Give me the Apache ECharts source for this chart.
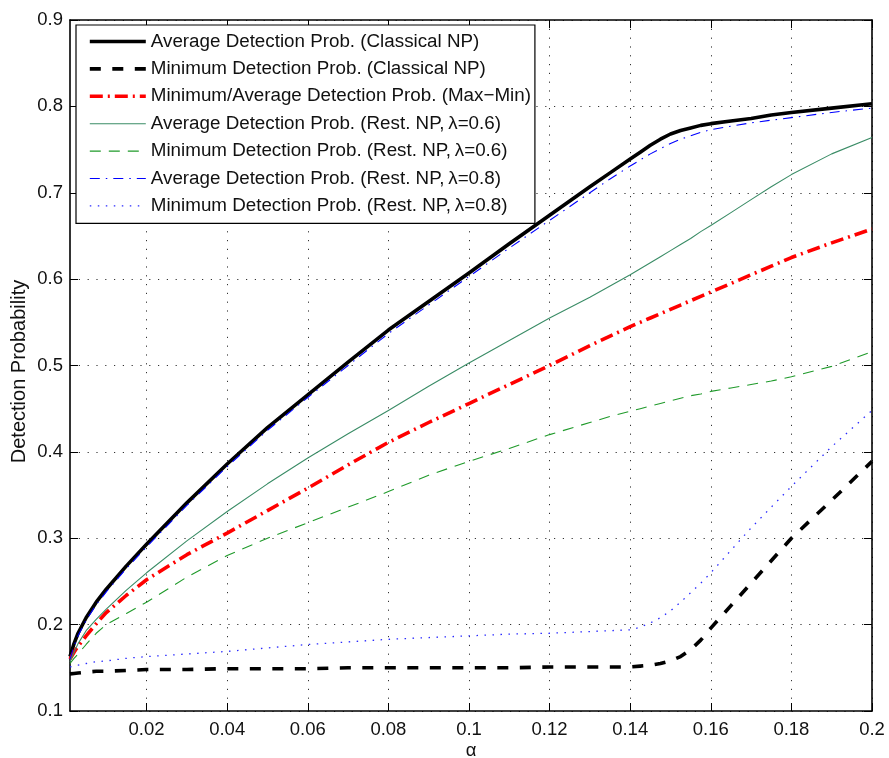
<!DOCTYPE html>
<html>
<head>
<meta charset="utf-8">
<script src="https://cdn.jsdelivr.net/npm/echarts@6/dist/echarts.min.js"></script>
<style>
  html, body { margin: 0; padding: 0; background: #ffffff; }
  #chart { width: 889px; height: 758px; }
</style>
</head>
<body>
<div id="chart"></div>
<script>
// False-alarm level (x) at which each detection curve is sampled
const alpha = [0.001, 0.002, 0.003, 0.005, 0.0075, 0.01, 0.015, 0.02, 0.03, 0.04,
               0.05, 0.06, 0.07, 0.08, 0.09, 0.1, 0.11, 0.12, 0.13, 0.135,
               0.14, 0.1425, 0.145, 0.1475, 0.15, 0.1525, 0.155, 0.1575, 0.16, 0.165,
               0.17, 0.175, 0.18, 0.19, 0.2];

// Detection probabilities
const avgClassical = [0.163, 0.178, 0.190, 0.208, 0.226, 0.241, 0.268, 0.293, 0.341, 0.386,
                      0.428, 0.466, 0.504, 0.541, 0.574, 0.607, 0.641, 0.674, 0.707, 0.723,
                      0.739, 0.747, 0.755, 0.762, 0.768, 0.772, 0.775, 0.778, 0.780, 0.783,
                      0.786, 0.790, 0.793, 0.798, 0.803];
const minClassical = [0.143, 0.1435, 0.144, 0.145, 0.146, 0.146, 0.147, 0.148, 0.148, 0.149,
                      0.149, 0.149, 0.150, 0.150, 0.150, 0.150, 0.150, 0.151, 0.151, 0.151,
                      0.151, 0.152, 0.153, 0.155, 0.158, 0.163, 0.171, 0.182, 0.196, 0.222,
                      0.248, 0.274, 0.300, 0.344, 0.389];
const maxMin = [0.160, 0.168, 0.175, 0.187, 0.201, 0.214, 0.234, 0.252, 0.281, 0.306,
                0.332, 0.358, 0.385, 0.411, 0.434, 0.456, 0.478, 0.500, 0.523, 0.534,
                0.545, 0.550, 0.555, 0.560, 0.565, 0.570, 0.575, 0.580, 0.585, 0.595,
                0.605, 0.615, 0.625, 0.642, 0.658];
const avgRest06 = [0.157, 0.168, 0.178, 0.193, 0.206, 0.218, 0.240, 0.260, 0.297, 0.331,
                   0.363, 0.393, 0.421, 0.448, 0.476, 0.503, 0.529, 0.555, 0.579, 0.592,
                   0.605, 0.612, 0.619, 0.626, 0.633, 0.640, 0.647, 0.655, 0.662, 0.677,
                   0.692, 0.707, 0.721, 0.745, 0.764];
const minRest06 = [0.155, 0.161, 0.166, 0.177, 0.190, 0.200, 0.213, 0.226, 0.255, 0.280,
                   0.300, 0.318, 0.336, 0.354, 0.373, 0.389, 0.404, 0.420, 0.434, 0.441,
                   0.447, 0.450, 0.453, 0.456, 0.459, 0.462, 0.465, 0.467, 0.470, 0.474,
                   0.478, 0.482, 0.487, 0.499, 0.516];
const avgRest08 = [0.160, 0.175, 0.187, 0.205, 0.223, 0.238, 0.265, 0.290, 0.338, 0.383,
                   0.425, 0.463, 0.500, 0.537, 0.570, 0.603, 0.636, 0.668, 0.700, 0.716,
                   0.731, 0.738, 0.745, 0.751, 0.757, 0.762, 0.766, 0.770, 0.773, 0.777,
                   0.781, 0.784, 0.787, 0.793, 0.798];
const minRest08 = [0.151, 0.152, 0.153, 0.155, 0.157, 0.158, 0.161, 0.163, 0.166, 0.169,
                   0.173, 0.177, 0.180, 0.183, 0.185, 0.187, 0.189, 0.190, 0.192, 0.193,
                   0.194, 0.197, 0.202, 0.208, 0.216, 0.226, 0.237, 0.248, 0.260, 0.286,
                   0.312, 0.336, 0.360, 0.406, 0.448];

const xTicks = [0.02, 0.04, 0.06, 0.08, 0.1, 0.12, 0.14, 0.16, 0.18, 0.2];

const names = [
  'Average Detection Prob. (Classical NP)',
  'Minimum Detection Prob. (Classical NP)',
  'Minimum/Average Detection Prob. (Max\u2212Min)',
  'Average Detection Prob. (Rest. NP,\u2009\u03bb=0.6)',
  'Minimum Detection Prob. (Rest. NP,\u2009\u03bb=0.6)',
  'Average Detection Prob. (Rest. NP,\u2009\u03bb=0.8)',
  'Minimum Detection Prob. (Rest. NP,\u2009\u03bb=0.8)'
];

const FONT = 'Liberation Sans, Arial, Helvetica, sans-serif';
const fmt = v => String(+(+v).toFixed(3));

// Line appearance per series: colour, width, dash pattern
const styles = [
  { color: '#000000', width: 3.6, type: 'solid' },
  { color: '#000000', width: 3.6, type: [11, 11.5] },
  { color: '#ff0000', width: 3.6, type: [13, 5, 2, 5] },
  { color: '#3a8c66', width: 1.1, type: 'solid' },
  { color: '#1f9a2a', width: 1.1, type: [11, 8] },
  { color: '#0000ff', width: 1.1, type: [10, 6, 1.5, 6] },
  { color: '#2a2aff', width: 1.3, type: [1.5, 6.5] }
];
const seriesValues = [avgClassical, minClassical, maxMin, avgRest06, minRest06, avgRest08, minRest08];

function line(idx) {
  const s = styles[idx];
  return {
    name: names[idx],
    type: 'line',
    data: alpha.map((a, i) => [a, seriesValues[idx][i]]),
    symbol: 'none',
    showSymbol: false,
    smooth: false,
    lineStyle: { color: s.color, width: s.width, type: s.type, cap: 'butt', join: 'round' },
    itemStyle: { color: s.color },
    z: 3
  };
}

const gridDash = [1.2, 7.6];

const chart = echarts.init(document.getElementById('chart'), null, { renderer: 'canvas' });
chart.setOption({
  animation: false,
  backgroundColor: '#ffffff',
  textStyle: { fontFamily: FONT },
  grid: { left: 70, right: 17, top: 20, bottom: 47, containLabel: false, outerBoundsMode: 'none' },
  legend: {
    orient: 'vertical',
    left: 76,
    top: 25,
    padding: [7, 4, 8, 12],
    itemWidth: 56,
    itemHeight: 14,
    itemGap: 8.4,
    backgroundColor: '#ffffff',
    borderColor: '#000000',
    borderWidth: 1.2,
    borderRadius: 0,
    itemStyle: { opacity: 0, borderWidth: 0 },
    textStyle: { fontFamily: FONT, fontSize: 18.8, color: '#111111', lineHeight: 19 },
    data: names.map((n, i) => ({
      name: n,
      lineStyle: { color: styles[i].color, width: styles[i].width, type: styles[i].type, cap: 'butt' }
    }))
  },
  xAxis: [{
    type: 'value',
    min: 0.001,
    max: 0.2,
    position: 'bottom',
    name: '\u03b1',
    nameLocation: 'middle',
    nameGap: 30,
    nameMoveOverlap: false,
    nameTextStyle: { fontFamily: FONT, fontSize: 18.5, color: '#111111' },
    axisLine: { show: true, onZero: false, lineStyle: { color: '#000000', width: 1.6 } },
    axisTick: { show: true, inside: true, length: 8, customValues: xTicks, lineStyle: { color: '#000000', width: 1 } },
    axisLabel: { show: true, margin: 9, customValues: xTicks, formatter: fmt,
                 fontFamily: FONT, fontSize: 18.5, color: '#111111' },
    splitLine: { show: true, lineStyle: { color: '#333333', width: 1, type: gridDash } }
  }, {
    type: 'value',
    min: 0.001,
    max: 0.2,
    position: 'top',
    axisLine: { show: true, onZero: false, lineStyle: { color: '#000000', width: 1.6 } },
    axisTick: { show: true, inside: true, length: 8, customValues: xTicks, lineStyle: { color: '#000000', width: 1 } },
    axisLabel: { show: false },
    splitLine: { show: false }
  }],
  yAxis: [{
    type: 'value',
    min: 0.1,
    max: 0.9,
    interval: 0.1,
    position: 'left',
    name: 'Detection Probability',
    nameLocation: 'middle',
    nameGap: 41,
    nameMoveOverlap: false,
    nameTextStyle: { fontFamily: FONT, fontSize: 20, color: '#111111', padding: [0, 12, 0, 0] },
    axisLine: { show: true, onZero: false, lineStyle: { color: '#000000', width: 1.6 } },
    axisTick: { show: true, inside: true, length: 8, lineStyle: { color: '#000000', width: 1 } },
    axisLabel: { show: true, margin: 7, formatter: fmt, fontFamily: FONT, fontSize: 18.5, color: '#111111' },
    splitLine: { show: true, lineStyle: { color: '#333333', width: 1, type: gridDash } }
  }, {
    type: 'value',
    min: 0.1,
    max: 0.9,
    interval: 0.1,
    position: 'right',
    axisLine: { show: true, onZero: false, lineStyle: { color: '#000000', width: 1.6 } },
    axisTick: { show: true, inside: true, length: 8, lineStyle: { color: '#000000', width: 1 } },
    axisLabel: { show: false },
    splitLine: { show: false }
  }],
  series: names.map((n, i) => line(i))
});
</script>
</body>
</html>
